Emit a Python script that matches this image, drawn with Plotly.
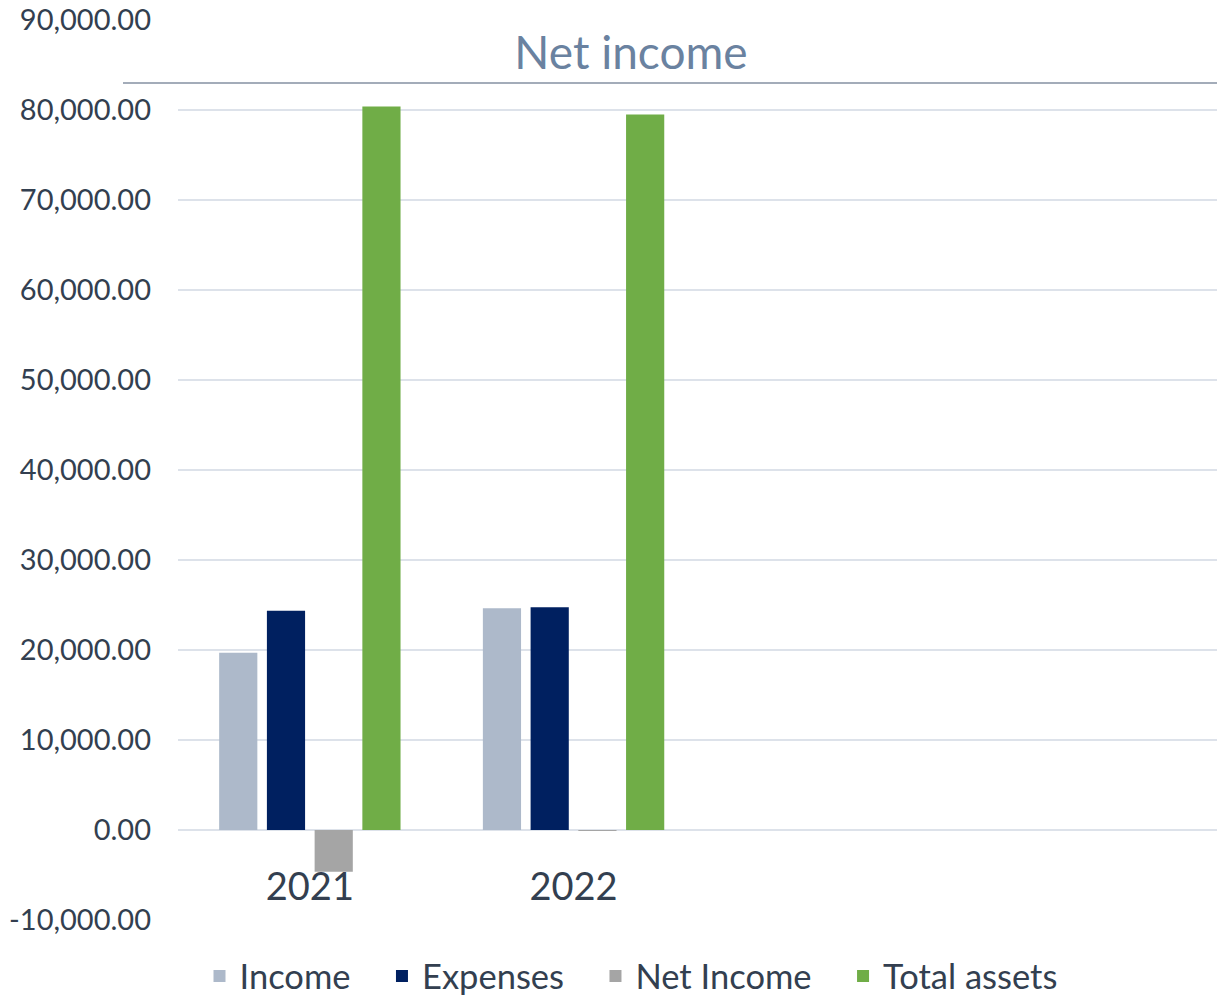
import plotly.graph_objects as go

years = ["2021", "2022"]
income = [19700, 24650]
expenses = [24350, 24750]
net_income = [-4650, -100]
total_assets = [80400, 79500]

series_names = ["Income", "Expenses", "Net Income", "Total assets"]
series_values = [income, expenses, net_income, total_assets]
series_colors = ["#adb9ca", "#002060", "#a5a5a5", "#70ad47"]

y_ticks = [-10000, 0, 10000, 20000, 30000, 40000, 50000, 60000, 70000, 80000, 90000]
y_tick_labels = ["-10,000.00", "0.00", "10,000.00", "20,000.00", "30,000.00", "40,000.00",
                 "50,000.00", "60,000.00", "70,000.00", "80,000.00", "90,000.00"]

FONT = "Lato"
TXT = "#333f50"
W, H = 1217, 996

fig = go.Figure()
for i, (name, vals, col) in enumerate(zip(series_names, series_values, series_colors)):
    label = name if i == len(series_names) - 1 else name + "\u00a0" * 3
    fig.add_trace(go.Bar(x=years, y=vals, name=label, marker=dict(color=col, line=dict(width=0))))

plot_left, plot_top, plot_bottom = 178, 20, 920
plot_w = W - plot_left
plot_h = plot_bottom - plot_top

fig.update_layout(
    width=W, height=H,
    margin=dict(l=plot_left, r=0, t=plot_top, b=H - plot_bottom, autoexpand=False),
    paper_bgcolor="white", plot_bgcolor="white",
    barmode="group", bargap=0.276, bargroupgap=0.2,
    font=dict(family=FONT, color=TXT),
    title=dict(text="Net income", x=631 / W, xref="container", xanchor="center",
               y=1 - 53 / H, yref="container", yanchor="middle",
               font=dict(family=FONT, size=46, color="#6a82a0")),
    showlegend=True,
    legend=dict(orientation="h", xref="container", yref="container",
                x=631 / W, xanchor="center", y=1 - 976 / H, yanchor="middle",
                font=dict(family=FONT, size=34.5, color=TXT), traceorder="normal",
                itemwidth=30),
    xaxis=dict(type="category", range=[-0.5, 3.44], showgrid=False, showline=False,
               ticks="", anchor="free", position=0.1, ticklabelstandoff=31,
               tickfont=dict(family=FONT, size=38, color=TXT)),
    yaxis=dict(range=[-10000, 90001], tickvals=y_ticks, ticktext=y_tick_labels,
               showgrid=True, gridcolor="#dde2ea", gridwidth=2,
               zeroline=True, zerolinecolor="#dde2ea", zerolinewidth=2,
               showline=False, ticks="", ticklabelstandoff=26,
               tickfont=dict(family=FONT, size=29, color=TXT)),
    shapes=[dict(type="line", xref="paper", yref="paper",
                 x0=(123 - 178) / plot_w, x1=1,
                 y0=(920 - 83) / plot_h, y1=(920 - 83) / plot_h,
                 line=dict(color="#a3acb9", width=2))],
)

fig.write_html("out.html", config={"displayModeBar": False},
               post_script="document.body.style.margin='0px';")
